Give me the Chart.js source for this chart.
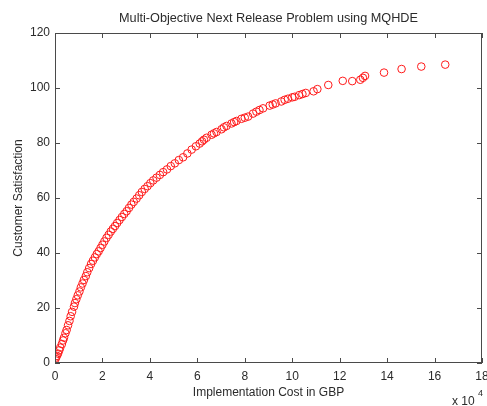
<!DOCTYPE html>
<html>
<head>
<meta charset="utf-8">
<script src="https://cdn.jsdelivr.net/npm/chart.js@4/dist/chart.umd.min.js"></script>
<style>
  html, body { margin: 0; padding: 0; background: #fff; }
  #wrap { width: 487px; height: 406px; }
</style>
</head>
<body>
<div id="wrap"><canvas id="nrpChart"></canvas></div>
<script>
// Pareto front, implementation cost in units of 10^4 GBP
const cost = [
  0.02, 0.04, 0.08, 0.13, 0.18, 0.22, 0.29, 0.34, 0.38, 0.44,
  0.49, 0.55, 0.61, 0.66, 0.72, 0.80, 0.84, 0.90, 0.96, 1.03,
  1.09, 1.16, 1.22, 1.30, 1.36, 1.44, 1.52, 1.60, 1.68, 1.76,
  1.84, 1.92, 2.00, 2.08, 2.17, 2.26, 2.35, 2.44, 2.53, 2.62,
  2.72, 2.82, 2.92, 3.02, 3.12, 3.22, 3.32, 3.44, 3.55, 3.66,
  3.78, 3.90, 4.02, 4.14, 4.28, 4.42, 4.56, 4.72, 4.88, 5.05,
  5.22, 5.40, 5.58, 5.76, 5.94, 6.10, 6.20, 6.28, 6.39, 6.60,
  6.70, 6.81, 7.02, 7.12, 7.23, 7.44, 7.55, 7.65, 7.86, 8.00,
  8.14, 8.35, 8.49, 8.62, 8.77, 9.05, 9.18, 9.30, 9.54, 9.68,
  9.82, 10.00, 10.10, 10.29, 10.43, 10.57, 10.90, 11.06, 11.52, 12.13,
  12.53, 12.87, 12.98, 13.07, 13.87, 14.61, 15.44, 16.45
];
// customer satisfaction for each solution
const satisfaction = [
  1.5, 2.0, 2.6, 3.4, 4.6, 5.6, 6.9, 8.2, 9.2, 10.8,
  12.0, 13.7, 15.3, 17.0, 18.6, 20.5, 21.8, 23.2, 24.6, 26.0,
  27.5, 28.9, 30.2, 31.6, 33.0, 34.5, 36.0, 37.2, 38.4, 39.6,
  40.6, 41.8, 43.0, 44.2, 45.5, 46.6, 47.8, 48.8, 49.8, 50.9,
  52.0, 53.1, 54.2, 55.2, 56.4, 57.6, 58.6, 59.8, 61.0, 62.2,
  63.3, 64.3, 65.4, 66.4, 67.4, 68.4, 69.4, 70.4, 71.6, 72.6,
  73.8, 74.8, 76.2, 77.6, 78.8, 79.8, 80.6, 81.2, 81.9, 83.0,
  83.5, 84.0, 85.0, 85.7, 86.2, 87.1, 87.6, 88.0, 88.8, 89.2,
  89.6, 90.7, 91.4, 92.0, 92.6, 93.6, 94.0, 94.4, 95.1, 95.7,
  96.1, 96.6, 96.8, 97.4, 97.8, 98.2, 98.8, 99.6, 101.1, 102.6,
  102.5, 103.0, 103.7, 104.4, 105.6, 106.9, 107.8, 108.5
];

const points = cost.map((c, i) => ({ x: c, y: satisfaction[i] }));
const txtColor = '#2b2b2b';
const axisColor = '#4a4a4a';
const fontFamily = '"Liberation Sans", Arial, sans-serif';
const titleText = 'Multi-Objective Next Release Problem using MQHDE';

// MATLAB-ish box with inward ticks on all four sides, plus title and exponent
const boxPlugin = {
  id: 'boxPlugin',
  afterDraw(chart) {
    const ctx = chart.ctx;
    const a = chart.chartArea;
    const xs = chart.scales.x, ys = chart.scales.y;
    const len = 5;
    ctx.save();
    ctx.strokeStyle = axisColor;
    ctx.lineWidth = 1;
    ctx.strokeRect(a.left + 0.5, a.top + 0.5, a.right - a.left - 1, a.bottom - a.top - 1);
    ctx.beginPath();
    xs.ticks.forEach(t => {
      const px = Math.round(xs.getPixelForValue(t.value)) + 0.5;
      ctx.moveTo(px, a.bottom); ctx.lineTo(px, a.bottom - len);
      ctx.moveTo(px, a.top); ctx.lineTo(px, a.top + len);
    });
    ys.ticks.forEach(t => {
      const py = Math.round(ys.getPixelForValue(t.value)) + 0.5;
      ctx.moveTo(a.left, py); ctx.lineTo(a.left + len, py);
      ctx.moveTo(a.right, py); ctx.lineTo(a.right - len, py);
    });
    ctx.stroke();

    ctx.fillStyle = txtColor;
    // title centred over the plot box
    ctx.textAlign = 'center';
    ctx.textBaseline = 'middle';
    ctx.font = '12.7px ' + fontFamily;
    ctx.fillText(titleText, (a.left + a.right) / 2, 18);
    // exponent label
    ctx.textBaseline = 'alphabetic';
    ctx.textAlign = 'left';
    ctx.font = '12px ' + fontFamily;
    ctx.fillText('x 10', 452, 405);
    ctx.font = '9px ' + fontFamily;
    ctx.fillText('4', 478, 396);
    ctx.restore();
  }
};

const ctx = document.getElementById('nrpChart').getContext('2d');
new Chart(ctx, {
  type: 'scatter',
  data: {
    datasets: [{
      label: 'MQHDE',
      data: points,
      pointStyle: 'circle',
      pointRadius: 3.8,
      pointBorderWidth: 1,
      borderColor: '#ff1a1a',
      backgroundColor: 'rgba(0,0,0,0)'
    }]
  },
  options: {
    responsive: true,
    maintainAspectRatio: false,
    animation: false,
    layout: { padding: { left: 0, right: 4, top: 33, bottom: 0 } },
    plugins: {
      legend: { display: false },
      tooltip: { enabled: false },
      title: { display: false }
    },
    scales: {
      x: {
        type: 'linear',
        min: 0, max: 18,
        grid: { display: false, drawTicks: false },
        border: { display: false },
        ticks: {
          stepSize: 2, color: txtColor, padding: 6, maxRotation: 0,
          font: { family: fontFamily, size: 12 }
        },
        title: {
          display: true, text: 'Implementation Cost in GBP', color: txtColor,
          font: { family: fontFamily, size: 12 },
          padding: { top: 2, bottom: 6 }
        },
        afterFit(scale) {
          scale.height = 43;
          scale.paddingLeft = 0;
          scale.paddingRight = 0;
        }
      },
      y: {
        type: 'linear',
        min: 0, max: 120,
        grid: { display: false, drawTicks: false },
        border: { display: false },
        ticks: {
          stepSize: 20, color: txtColor, padding: 5,
          font: { family: fontFamily, size: 12 }
        },
        title: {
          display: true, text: 'Customer Satisfaction', color: txtColor,
          font: { family: fontFamily, size: 12 },
          padding: { top: 11, bottom: 0 }
        },
        afterFit(scale) {
          scale.width = 55;
          scale.paddingTop = 0;
          scale.paddingBottom = 0;
        }
      }
    }
  },
  plugins: [boxPlugin]
});
</script>
</body>
</html>
